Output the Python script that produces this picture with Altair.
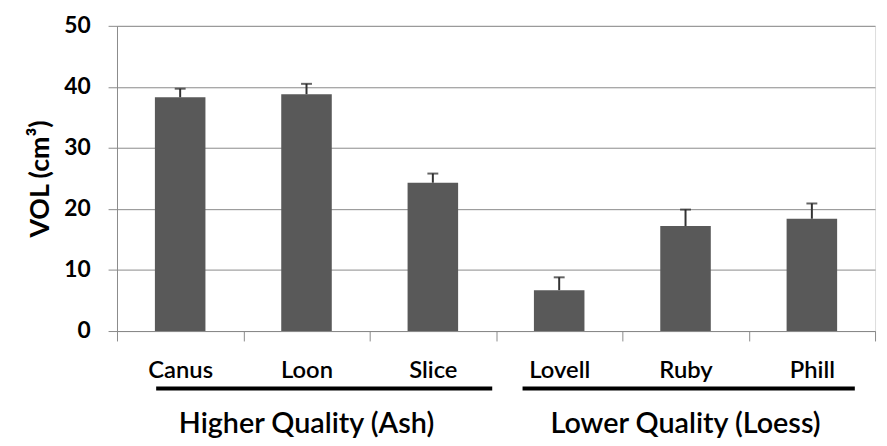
import altair as alt
import pandas as pd

categories = ["Canus", "Loon", "Slice", "Lovell", "Ruby", "Phill"]
values = [38.3, 38.8, 24.3, 6.7, 17.2, 18.4]
err_upper = [1.4, 1.7, 1.5, 2.1, 2.7, 2.5]
groups = ["Higher Quality (Ash)"] * 3 + ["Lower Quality (Loess)"] * 3

group_names = ["Higher Quality (Ash)", "Lower Quality (Loess)"]
group_first = ["Canus", "Lovell"]
group_last = ["Slice", "Phill"]
group_mid = ["Loon", "Ruby"]

df = pd.DataFrame({
    "cat": categories,
    "val": values,
    "top": [v + e for v, e in zip(values, err_upper)],
    "grp": groups,
})
gdf = pd.DataFrame({"grp": group_names, "first": group_first, "last": group_last, "mid": group_mid})

FONT = "Lato"
GRID = "#8a8a8a"

xscale = alt.Scale(domain=categories, paddingInner=0, paddingOuter=0)
yscale = alt.Scale(domain=[0, 50], nice=False)

x_enc = alt.X(
    "cat:N", scale=xscale, sort=categories, title=None,
    axis=alt.Axis(
        labelAngle=0, labelFont=FONT, labelFontSize=24, labelColor="black",
        labelFontWeight=600, labelPadding=18, tickSize=10, tickColor=GRID,
        domainColor=GRID, tickBand="extent", grid=False,
    ),
)
y_enc = alt.Y(
    "val:Q", scale=yscale, title="VOL (cm³)",
    axis=alt.Axis(
        values=[0, 10, 20, 30, 40, 50], labelFont=FONT, labelFontSize=23,
        labelFontWeight="bold", labelColor="black", labelPadding=18, tickSize=9,
        tickColor=GRID, domainColor=GRID, gridColor=GRID, gridOpacity=1,
        titleFont=FONT, titleFontSize=27, titleFontWeight="bold", titleColor="black",
        titlePadding=9,
    ),
)

bars = alt.Chart(df).mark_bar(color="#595959", width=alt.RelativeBandSize(0.4)).encode(
    x=x_enc, y=y_enc
)

stem = alt.Chart(df).mark_rule(color="#333333", strokeWidth=2).encode(
    x=alt.X("cat:N", scale=xscale, sort=categories),
    y=alt.Y("val:Q", scale=yscale),
    y2="top:Q",
)
cap = alt.Chart(df).mark_tick(color="#222222", orient="horizontal", size=11, thickness=2).encode(
    x=alt.X("cat:N", scale=xscale, sort=categories),
    y=alt.Y("top:Q", scale=yscale),
)

line1 = alt.Chart(gdf).transform_filter(alt.datum.grp == group_names[0]).mark_rule(
    color="black", strokeWidth=4, strokeCap="butt", clip=False
).encode(
    x=alt.X("first:N", scale=xscale, bandPosition=0.31),
    x2=alt.X2("last:N", bandPosition=0.97),
    y=alt.value(366),
)
line2 = alt.Chart(gdf).transform_filter(alt.datum.grp == group_names[1]).mark_rule(
    color="black", strokeWidth=4, strokeCap="butt", clip=False
).encode(
    x=alt.X("first:N", scale=xscale, bandPosition=0.21),
    x2=alt.X2("last:N", bandPosition=0.84),
    y=alt.value(366),
)

glabels = alt.Chart(gdf).mark_text(
    font=FONT, fontSize=29, fontWeight=600, color="black",
    align="center", baseline="alphabetic", clip=False,
).encode(
    x=alt.X("mid:N", scale=xscale, bandPosition=0.5),
    y=alt.value(411),
    text="grp:N",
)

chart = alt.layer(bars, stem, cap, line1, line2, glabels).properties(
    width=765, height=308,
    autosize=alt.AutoSizeParams(type="none"),
    padding={"left": 110, "top": 16, "right": 4, "bottom": 114},
).configure_view(stroke=None).configure(background="white")

chart.save("out.html", embed_options={"renderer": "svg", "actions": False})
